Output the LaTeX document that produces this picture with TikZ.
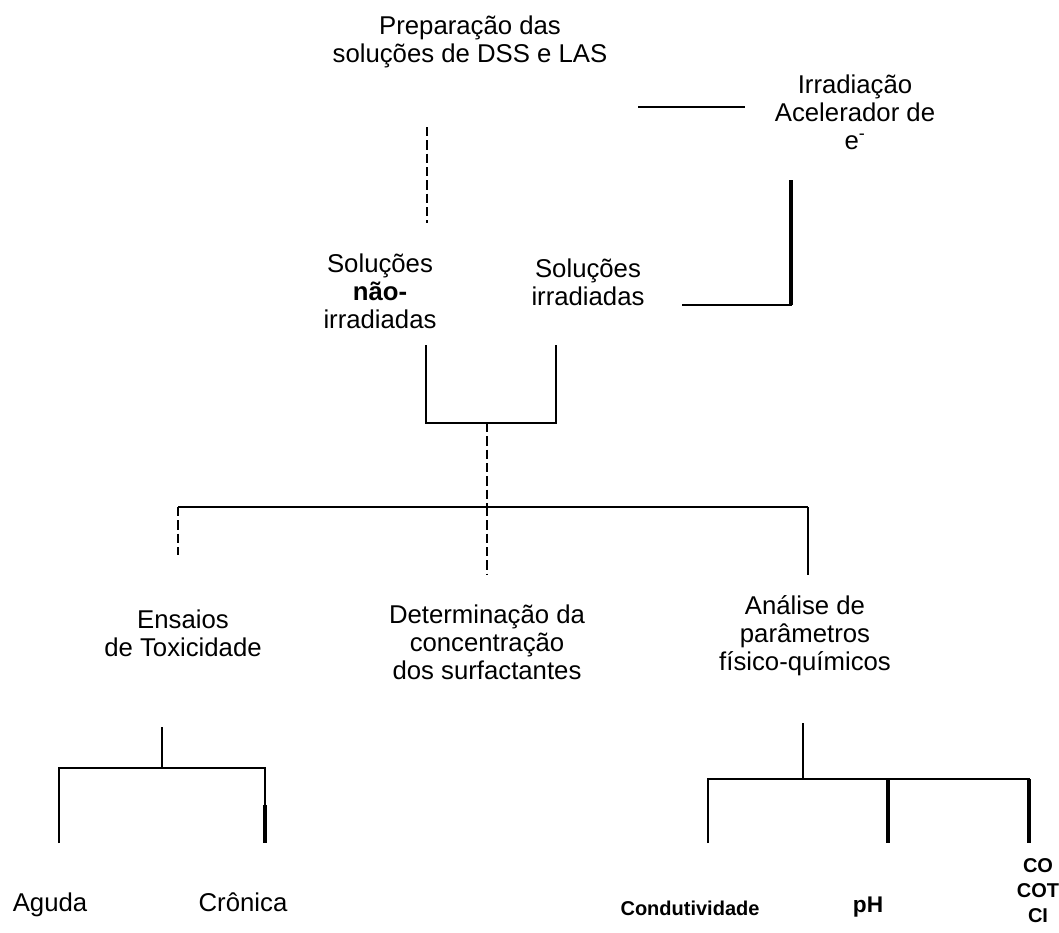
\documentclass[tikz,border=0pt]{standalone}
\usepackage{fontspec}
\setmainfont{Liberation Sans}
\begin{document}
\begin{tikzpicture}[x=0.75pt, y=-0.75pt]
\tikzset{ inner sep=0pt, outer sep=0pt,
  txt/.style={align=center, font=\fontsize{19.3}{21}\selectfont},
  sml/.style={align=center, font=\fontsize{#1}{18.75}\selectfont\bfseries},
  ln/.style={line width=1.4pt},
  heavy/.style={line width=2.6pt},
  broken/.style={line width=1.4pt, dash pattern=on 7pt off 3pt},
}
\useasboundingbox (0,0) rectangle (1059,932);

\node [txt] (PREP) at (470,42)  {Preparação das\\soluções de DSS e LAS};
\node [txt] (IRR)  at (855,112) {Irradiação\\Acelerador de\\e\textsuperscript{-}};
\node [txt] (NI)   at (380,291) {Soluções\\\textbf{não-}\\irradiadas};
\node [txt] (SI)   at (588,282) {Soluções\\irradiadas};

\node [txt] (TOX)  at (183,633) {Ensaios\\de Toxicidade};
\node [txt] (CONC) at (487,642) {Determinação da\\concentração\\dos surfactantes};
\node [txt] (FQ)   at (805,636) {Análise de\\parâmetros\\físico-químicos};

\node [txt, anchor=base] (AG) at (50,911)  {Aguda};
\node [txt, anchor=base] (CR) at (243,911) {Crônica};
\node [sml=15, anchor=base] (CD) at (690,915) {Condutividade};
\node [sml=17, anchor=base] (PH) at (868,912) {pH};
\node [sml=15] (CO) at (1038,891) {CO\\COT\\CI};

% ends of the lines
\coordinate (A1) at (638,107);  \coordinate (A2) at (745,107);
\coordinate (B1) at (427,127);  \coordinate (B2) at (427,223);
\coordinate (C1) at (791,180);  \coordinate (C2) at (682,305);
\coordinate (D1) at (426,345);  \coordinate (D2) at (556,345);
\coordinate (D3) at (487,423);  \coordinate (E0) at (487,507);
\coordinate (EL) at (178,507);  \coordinate (ER) at (808,507);
\coordinate (E1) at (178,555);  \coordinate (E2) at (808,575);
\coordinate (E3) at (487,575);
\coordinate (F0) at (162,727);  \coordinate (F1) at (162,768);
\coordinate (F2) at (59,843);   \coordinate (F3) at (265,843);
\coordinate (G0) at (803,723);  \coordinate (G1) at (803,779);
\coordinate (G2) at (708,843);  \coordinate (G3) at (888,843);
\coordinate (G4) at (1029,843); \coordinate (G5) at (888,779);

\draw [ln] (A1) -- (A2);
\draw [broken] (B1) -- (B2);
\draw [ln] (C2) -| (C1);
\draw [heavy] (C1) -- (C1 |- C2);

\draw [ln] (D1) |- (D3) -| (D2);
\draw [broken] (D3) -- (E0);

\draw [ln] (EL) -- (ER);
\draw [broken] (EL) -- (E1);
\draw [broken] (E0) -- (E3);
\draw [ln] (ER) -- (E2);

\draw [ln] (F0) -- (F1);
\draw [ln] (F2) |- (F1) -| (F3);
\draw [heavy] (265,805) -- (F3);

\draw [ln] (G0) -- (G1);
\draw [ln] (G2) |- (G1) -| (G4);
\draw [heavy] (G5) -- (G3);
\draw [heavy] (G4 |- G1) -- (G4);

\end{tikzpicture}
\end{document}
